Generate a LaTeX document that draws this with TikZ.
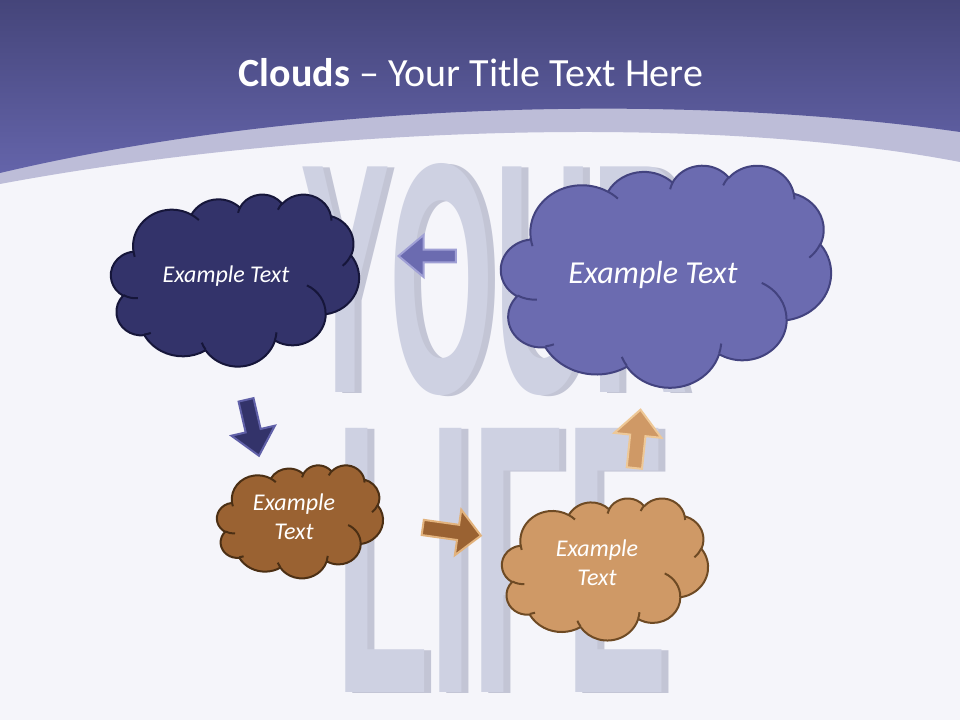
\documentclass[tikz,border=0pt]{standalone}
\usepackage{fontspec}
\setmainfont{Carlito}
\newfontfamily\letterfont{Liberation Sans}
\usetikzlibrary{shapes.arrows}

\definecolor{slidebg}{HTML}{F5F5FA}
\definecolor{headtop}{HTML}{45457A}
\definecolor{headbot}{HTML}{6464AA}
\definecolor{bandcol}{HTML}{BDBDD8}
\definecolor{letterface}{HTML}{CED1E2}
\definecolor{lettershade}{HTML}{C3C5D5}
\definecolor{navyfill}{HTML}{33336A}
\definecolor{navyline}{HTML}{16163A}
\definecolor{navyedge}{HTML}{6060A8}
\definecolor{violetfill}{HTML}{6B6BB0}
\definecolor{violetline}{HTML}{43437F}
\definecolor{violetedge}{HTML}{A0A0D5}
\definecolor{brownfill}{HTML}{9A6232}
\definecolor{brownline}{HTML}{4B2F14}
\definecolor{brownedge}{HTML}{E2B27C}
\definecolor{tanfill}{HTML}{CF9966}
\definecolor{tanline}{HTML}{6E4A24}
\definecolor{tanedge}{HTML}{EEC897}

% one arc of the cloud outline (radii, start angle, sweep)
\newcommand\cloudarc[4]{%
  \pgfextra{%
    \pgfmathparse{atan2(#1*sin(#3),#2*cos(#3))}\xdef\cldfrom{\pgfmathresult}%
    \pgfmathparse{atan2(#1*sin(#3+#4),#2*cos(#3+#4))}\xdef\cldto{\pgfmathresult}%
    \pgfmathparse{mod(\cldto-(\cldfrom)+720,360)}\xdef\cldsweep{\pgfmathresult}%
  }
  arc[x radius=#1, y radius=#2, start angle=\cldfrom, delta angle=\cldsweep]}

% cloud: style, left, top, width, height
\newcommand\officecloud[5]{%
  \begin{scope}[shift={(#2,#3)},xscale=#4/43.2,yscale=#5/43.2]
    \path[#1] (3.9,14.37)
      \cloudarc{6.753}{9.19}{-190.4875}{123.7805}
      \cloudarc{5.333}{7.267}{-144.1024}{89.9452}
      \cloudarc{4.365}{5.945}{-145.8079}{99.723}
      \cloudarc{4.857}{6.595}{-130.9861}{117.2417}
      \cloudarc{5.333}{7.273}{-78.7089}{109.0269}
      \cloudarc{6.775}{9.22}{-46.2673}{130.269}
      \cloudarc{5.785}{7.867}{0.625}{114.0333}
      \cloudarc{6.752}{9.215}{22.4516}{115.1726}
      \cloudarc{7.72}{10.543}{66.2426}{75.711}
      \cloudarc{4.36}{5.918}{-274.9421}{146.7356}
      \cloudarc{4.345}{5.945}{-246.8285}{152.5189} -- cycle;
    \path[#1,fill=none]
      (4.693,26.177) \cloudarc{4.345}{5.945}{86.742}{26.4295}
      (6.928,34.899) \cloudarc{4.36}{5.918}{73.6105}{11.4475}
      (16.478,39.09) \cloudarc{6.752}{9.215}{137.6242}{14.0811}
      (28.827,34.751) \cloudarc{6.752}{9.215}{6.4533}{15.9984}
      (34.129,22.954) \cloudarc{5.785}{7.867}{-70.2924}{70.9174}
      (41.798,15.354) \cloudarc{5.333}{7.273}{30.318}{27.7515}
      (38.324,5.426) \cloudarc{4.857}{6.595}{-13.7443}{14.8589}
      (29.078,3.952) \cloudarc{4.857}{6.595}{-149.1815}{18.1954}
      (22.141,4.72) \cloudarc{4.365}{5.945}{-163.4943}{17.6864}
      (14,5.192) \cloudarc{6.753}{9.19}{-66.707}{12.3194}
      (4.127,15.789) \cloudarc{6.753}{9.19}{157.6544}{11.8582};
  \end{scope}}

\tikzset{
  cloudshape/.style={line width=1.5pt, line join=round},
  cloudlabel/.style={text=white, align=center, inner sep=0pt},
  blockarrow/.style={single arrow, line width=1.5pt, inner sep=0pt, minimum width=0pt},
  bigletters/.style={anchor=base west, inner sep=0pt, font=\letterfont\bfseries}
}

\begin{document}
\begin{tikzpicture}[x=0.75pt,y=-0.75pt]
\useasboundingbox (0,0) rectangle (960,720);
\fill[slidebg] (0,0) rectangle (960,720);

% big words behind
\node[bigletters, text=lettershade] (yourshade) at (307,393) {\fontsize{246pt}{246pt}\selectfont\scalebox{0.41}[1]{YOUR}};
\node[bigletters, text=letterface] (your) at (300,392) {\fontsize{246pt}{246pt}\selectfont\scalebox{0.41}[1]{YOUR}};
\node[bigletters, text=lettershade] (lifeshade) at (342,693) {\fontsize{288pt}{288pt}\selectfont\scalebox{0.40}[1]{LIFE}};
\node[bigletters, text=letterface] (life) at (335,692) {\fontsize{288pt}{288pt}\selectfont\scalebox{0.40}[1]{LIFE}};

% header
\fill[bandcol] (0,0) -- (960,0) -- (960,162) .. controls (700,112) and (300,128) .. (0,184) -- cycle;
\shade[top color=headtop, bottom color=headbot] (0,0) -- (960,0) -- (960,132) .. controls (680,92) and (300,102) .. (0,173) -- cycle;
\node[text=white, anchor=base, font=\fontsize{30}{36}\selectfont] (title) at (471,87) {\textbf{Clouds} – Your Title Text Here};

% clouds
\officecloud{cloudshape, fill=navyfill, draw=navyline}{111}{194}{248}{172}
\officecloud{cloudshape, fill=violetfill, draw=violetline}{501}{165}{330}{222}
\officecloud{cloudshape, fill=brownfill, draw=brownline}{217}{465}{166}{113}
\officecloud{cloudshape, fill=tanfill, draw=tanline}{502}{498}{206}{142}

\node[cloudlabel, anchor=base, font=\itshape\fontsize{18}{21.6}\selectfont] (navycloud) at (226,282) {Example Text};
\node[cloudlabel, anchor=base, font=\itshape\fontsize{24}{28.8}\selectfont] (violetcloud) at (653,284) {Example Text};
\node[cloudlabel, font=\itshape\fontsize{18}{21.6}\selectfont] (browncloud) at (294,517) {Example\\Text};
\node[cloudlabel, font=\itshape\fontsize{18}{21.6}\selectfont] (tancloud) at (597,563) {Example\\Text};

% arrows
\node[blockarrow, fill=navyfill, draw=navyedge, inner ysep=5pt, single arrow head extend=11pt, single arrow tip angle=82, minimum height=43pt, rotate=-77] (navyarrow) at (251.5,423.5) {};
\node[blockarrow, fill=violetfill, draw=violetedge, inner ysep=4pt, single arrow head extend=11pt, single arrow tip angle=80, minimum height=43pt, rotate=180] (violetarrow) at (431,256) {};
\node[blockarrow, fill=brownfill, draw=brownedge, inner ysep=5pt, single arrow head extend=11.5pt, single arrow tip angle=90, minimum height=44pt, rotate=-8] (brownarrow) at (448,531) {};
\node[blockarrow, fill=tanfill, draw=tanedge, inner ysep=5pt, single arrow head extend=12pt, single arrow tip angle=85, minimum height=44pt, rotate=84] (tanarrow) at (637,443) {};
\end{tikzpicture}
\end{document}
